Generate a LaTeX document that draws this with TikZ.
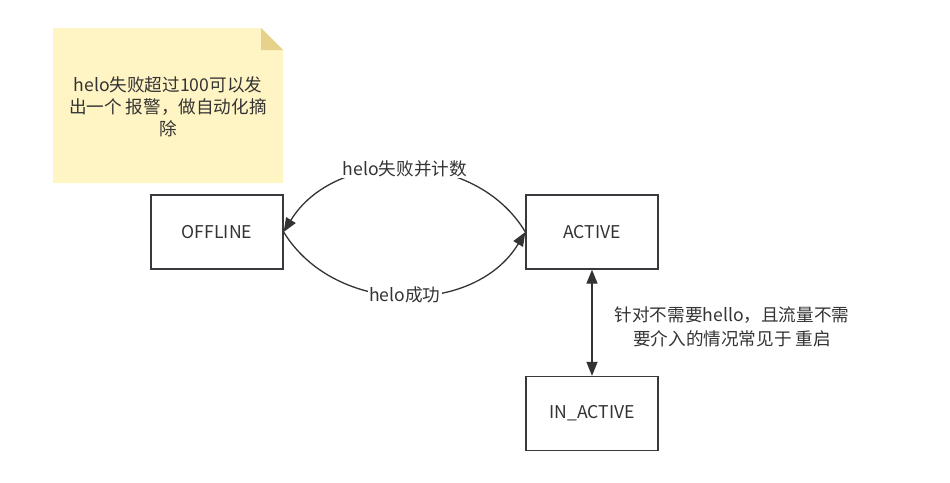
\documentclass[tikz,border=0pt]{standalone}
\usepackage{fontspec}
\setmainfont{Noto Sans CJK SC}
\usetikzlibrary{arrows.meta}
\definecolor{txt}{HTML}{333333}
\definecolor{ln}{HTML}{333333}
\definecolor{bx}{HTML}{36393D}
\definecolor{notefill}{HTML}{FFF4C3}
\definecolor{notefold}{HTML}{E6D28A}
\tikzset{
  tfont/.style={font=\fontsize{17.6pt}{22pt}\selectfont},
  state/.style={draw=bx, line width=1.3pt, fill=white, minimum width=132pt, minimum height=74pt, inner sep=0pt, text=txt, tfont},
  lbl/.style={text=txt, fill=white, inner sep=1pt, tfont, align=center},
  tip/.style={Triangle[length=14pt,width=11pt]},
  conn/.style={draw=ln, line width=1.3pt, -{Triangle[length=14pt,width=11pt]}},
}
\begin{document}
\begin{tikzpicture}[x=1pt,y=-1pt]
\useasboundingbox (0,0) rectangle (950,482);
% note
\fill[notefill] (53,28) -- (261,28) -- (283,50) -- (283,183) -- (53,183) -- cycle;
\fill[notefold] (261,28) -- (283,50) -- (261,50) -- cycle;
\node[text=txt, align=center, tfont] (note) at (168,107) {helo失败超过100可以发\\出一个 报警，做自动化摘\\除};
% states
\node[state] (off) at (217,232) {OFFLINE};
\node[state] (act) at (592,232) {ACTIVE};
\node[state] (ina) at (592,413.5) {IN\_ACTIVE};
% edges
\draw[conn] (act.west) .. controls (475,148) and (335,148) .. (off.east)
  node[lbl, pos=0.5] (l1) {helo失败并计数};
\draw[conn] (off.east) .. controls (335,316) and (475,316) .. (act.west)
  node[lbl, pos=0.5] (l2) {helo成功};
\draw[draw=ln, line width=1.3pt, {Triangle[length=14pt,width=11pt]}-{Triangle[length=14pt,width=11pt]}] (act.south) -- (ina.north);
\node[text=txt, align=center, font=\fontsize{17.6pt}{24pt}\selectfont] (l3) at (732,327) {针对不需要hello，且流量不需\\要介入的情况常见于 重启};
\end{tikzpicture}
\end{document}
